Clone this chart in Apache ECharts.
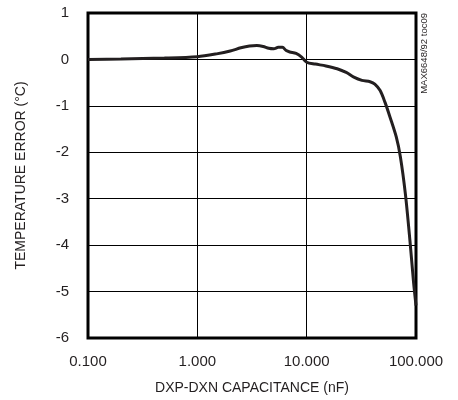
<!DOCTYPE html>
<html>
<head>
<meta charset="utf-8">
<script src="https://cdn.jsdelivr.net/npm/echarts@6/dist/echarts.min.js"></script>
<style>html,body{margin:0;padding:0;background:#fff}#c{width:458px;height:400px}</style>
</head>
<body>
<div id="c"></div>
<script>
var capacitance = [0.1, 0.2, 0.5, 1.0, 1.5, 2.0, 2.5, 3.0, 3.5, 4.0, 4.5, 5.0, 5.5, 6.0, 6.5, 7.0, 8.0, 9.0, 10, 12, 15, 19, 23, 27, 32, 38, 42, 47, 52, 58, 66, 72, 80, 88, 95, 100];
var tempError   = [0.0, 0.01, 0.03, 0.06, 0.12, 0.18, 0.25, 0.29, 0.30, 0.28, 0.24, 0.23, 0.26, 0.26, 0.19, 0.16, 0.13, 0.05, -0.06, -0.1, -0.14, -0.2, -0.28, -0.38, -0.45, -0.48, -0.53, -0.67, -0.92, -1.25, -1.67, -2.1, -2.9, -3.9, -4.8, -5.3];
var xTitle = 'DXP-DXN CAPACITANCE (nF)';
var yTitle = 'TEMPERATURE ERROR (°C)';
var note = 'MAX6648/92 toc09';

var FONT = '"Liberation Sans", Arial, sans-serif';
var data = capacitance.map(function (c, i) { return [c, tempError[i]]; });

var chart = echarts.init(document.getElementById('c'));
chart.setOption({
  animation: false,
  backgroundColor: '#fff',
  grid: { left: 88, right: 42, top: 13, bottom: 61, show: true, borderColor: '#000', borderWidth: 3, backgroundColor: 'transparent', containLabel: false },
  xAxis: {
    type: 'log', logBase: 10, min: 0.1, max: 100,
    name: xTitle, nameLocation: 'middle', nameGap: 43,
    nameTextStyle: { fontFamily: FONT, fontSize: 14, color: '#231f20' },
    axisLine: { show: false }, axisTick: { show: false },
    axisLabel: { fontFamily: FONT, fontSize: 15, color: '#231f20', margin: 16,
      formatter: function (v) { return Number(v).toFixed(3); } },
    splitLine: { show: true, lineStyle: { color: '#000', width: 1 } },
    minorTick: { show: false }, minorSplitLine: { show: false }
  },
  yAxis: {
    type: 'value', min: -6, max: 1, interval: 1,
    name: yTitle, nameLocation: 'middle', nameGap: 60, nameRotate: 90,
    nameTextStyle: { fontFamily: FONT, fontSize: 14, color: '#231f20' },
    axisLine: { show: false }, axisTick: { show: false },
    axisLabel: { fontFamily: FONT, fontSize: 15, color: '#231f20', margin: 19 },
    splitLine: { show: true, lineStyle: { color: '#000', width: 1 } }
  },
  graphic: [{
    type: 'text', x: 429, y: 13, rotation: Math.PI / 2,
    style: { text: note, fontFamily: FONT, fontSize: 9.5, fill: '#231f20', align: 'right', verticalAlign: 'bottom' }
  }],
  series: [{
    type: 'line', data: data, smooth: 0.3, showSymbol: false,
    lineStyle: { color: '#231f20', width: 3 }
  }]
});
</script>
</body>
</html>
